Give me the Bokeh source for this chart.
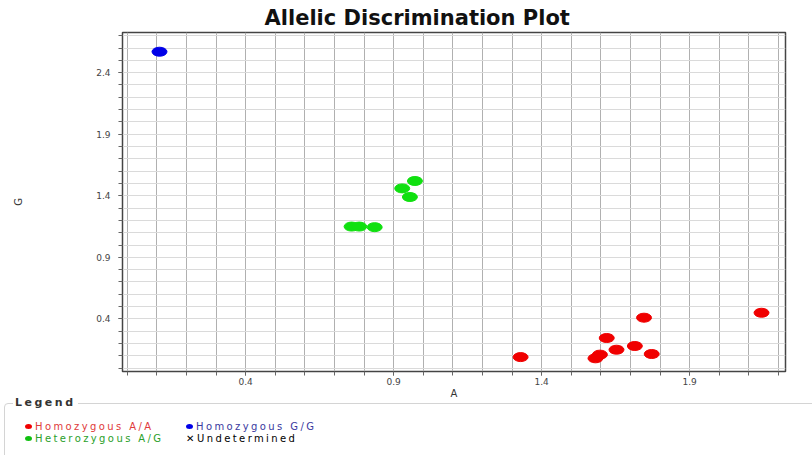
from bokeh.plotting import figure
from bokeh.layouts import column
from bokeh.models import Range1d, FixedTicker, Div
from bokeh.embed import file_html
from bokeh.resources import INLINE
import numpy as np

# Data
aa_x = [1.329, 1.746, 2.143, 1.620, 1.653, 1.715, 1.772, 1.582, 1.597]
aa_y = [0.090, 0.410, 0.450, 0.245, 0.150, 0.180, 0.115, 0.080, 0.110]
gg_x = [0.109]
gg_y = [2.570]
ag_x = [0.972, 0.929, 0.955, 0.758, 0.784, 0.836]
ag_y = [1.520, 1.460, 1.390, 1.150, 1.150, 1.145]

x_ticks = [0.4, 0.9, 1.4, 1.9]
y_ticks = [0.4, 0.9, 1.4, 1.9, 2.4]
x_minor = [round(v, 1) for v in np.arange(0.0, 2.25, 0.1)]
y_minor = [round(v, 1) for v in np.arange(0.0, 2.75, 0.1)]

legend_names = ["Homozygous A/A", "Homozygous G/G", "Heterozygous A/G", "Undetermined"]
legend_marker_colors = ["#f00000", "#0000e8", "#10c010", "#000000"]
legend_text_colors = ["#e03a3a", "#3a3aa0", "#2aa02a", "#000000"]

FONT = "DejaVu Sans"
W = 812
MAIN_H = 401
LEG_H = 60

p = figure(width=W, height=MAIN_H, output_backend="svg", toolbar_location=None,
           x_range=Range1d(-0.016, 2.224), y_range=Range1d(-0.027, 2.726),
           min_border_left=122, min_border_right=27, min_border_top=32,
           min_border_bottom=MAIN_H - 372, background_fill_color="white",
           border_fill_color="white")

p.title.text = "Allelic Discrimination Plot"
p.title.align = "left"
p.title.offset = 142
p.title.text_font = FONT
p.title.text_font_size = "21px"
p.title.text_font_style = "bold"
p.title.text_color = "#111111"
p.title.standoff = 6

p.outline_line_color = "#444444"
p.outline_line_width = 1.5

for ax, ticks, minor in ((p.xaxis[0], x_ticks, x_minor), (p.yaxis[0], y_ticks, y_minor)):
    ax.ticker = FixedTicker(ticks=ticks, minor_ticks=minor)
    ax.major_tick_in = 0
    ax.major_tick_out = 4
    ax.minor_tick_in = 0
    ax.minor_tick_out = 4
    ax.axis_line_color = "#444444"
    ax.major_tick_line_color = "#666666"
    ax.minor_tick_line_color = "#666666"
    ax.major_label_text_font = FONT
    ax.major_label_text_font_size = "9px"
    ax.major_label_text_color = "#444444"
    ax.axis_label_text_font = FONT
    ax.axis_label_text_font_size = "10px"
    ax.axis_label_text_font_style = "normal"
    ax.axis_label_text_color = "#333333"

p.xaxis.axis_label = "A"
p.yaxis.axis_label = "G"
p.xaxis.major_label_standoff = 2
p.xaxis.axis_label_standoff = 0
p.yaxis.major_label_standoff = 8
p.yaxis.axis_label_standoff = 69

p.xgrid.ticker = FixedTicker(ticks=x_minor)
p.ygrid.ticker = FixedTicker(ticks=y_minor)
p.xgrid.grid_line_color = "#b0b0b0"
p.ygrid.grid_line_color = "#dadada"

p.ellipse(x=aa_x, y=aa_y, width=15, height=9, width_units="screen",
          height_units="screen", fill_color="#f00000", line_color="#f00000")
p.ellipse(x=gg_x, y=gg_y, width=15, height=9, width_units="screen",
          height_units="screen", fill_color="#0000e8", line_color="#0000e8")
p.ellipse(x=ag_x, y=ag_y, width=15, height=9, width_units="screen",
          height_units="screen", fill_color="#10e010", line_color="#10e010")

# ---- legend panel as an HTML fieldset-like block
col_left = [25, 186]
row_top = [26, 38]
parts = [
    '<div style="position:relative;width:%dpx;height:%dpx;font-family:\'DejaVu Sans\';'
    'overflow:hidden;">' % (W, LEG_H),
    '<div style="position:absolute;left:4px;top:8px;width:%dpx;height:%dpx;'
    'border:1px solid #d4d4d4;border-radius:4px;"></div>' % (W + 20, LEG_H + 20),
    '<span style="position:absolute;left:13px;top:1px;padding:0 2px;background:white;'
    'font-weight:bold;font-size:11px;line-height:14px;letter-spacing:2.5px;'
    'color:#333333;">Legend</span>',
]
for i, (name, mc, tc) in enumerate(zip(legend_names, legend_marker_colors,
                                       legend_text_colors)):
    left = col_left[i % 2]
    top = row_top[i // 2]
    if name == "Undetermined":
        marker = ('<span style="display:inline-block;width:11px;font-size:10px;'
                  'color:%s;letter-spacing:0;">&#x2715;</span>' % mc)
    else:
        marker = ('<span style="display:inline-block;width:7px;height:5px;'
                  'border-radius:50%%;background:%s;margin:0 3px 1px 0;'
                  'vertical-align:middle;"></span>' % mc)
    parts.append('<span style="position:absolute;left:%dpx;top:%dpx;white-space:nowrap;'
                 'font-size:10px;line-height:11px;letter-spacing:2.4px;color:%s;">%s%s</span>'
                 % (left, top, tc, marker, name))
parts.append('</div>')

legend_div = Div(text="".join(parts), width=W, height=LEG_H, margin=(-6, 0, 0, 0))

layout = column(p, legend_div)
open("out.html", "w").write(file_html(layout, INLINE))
